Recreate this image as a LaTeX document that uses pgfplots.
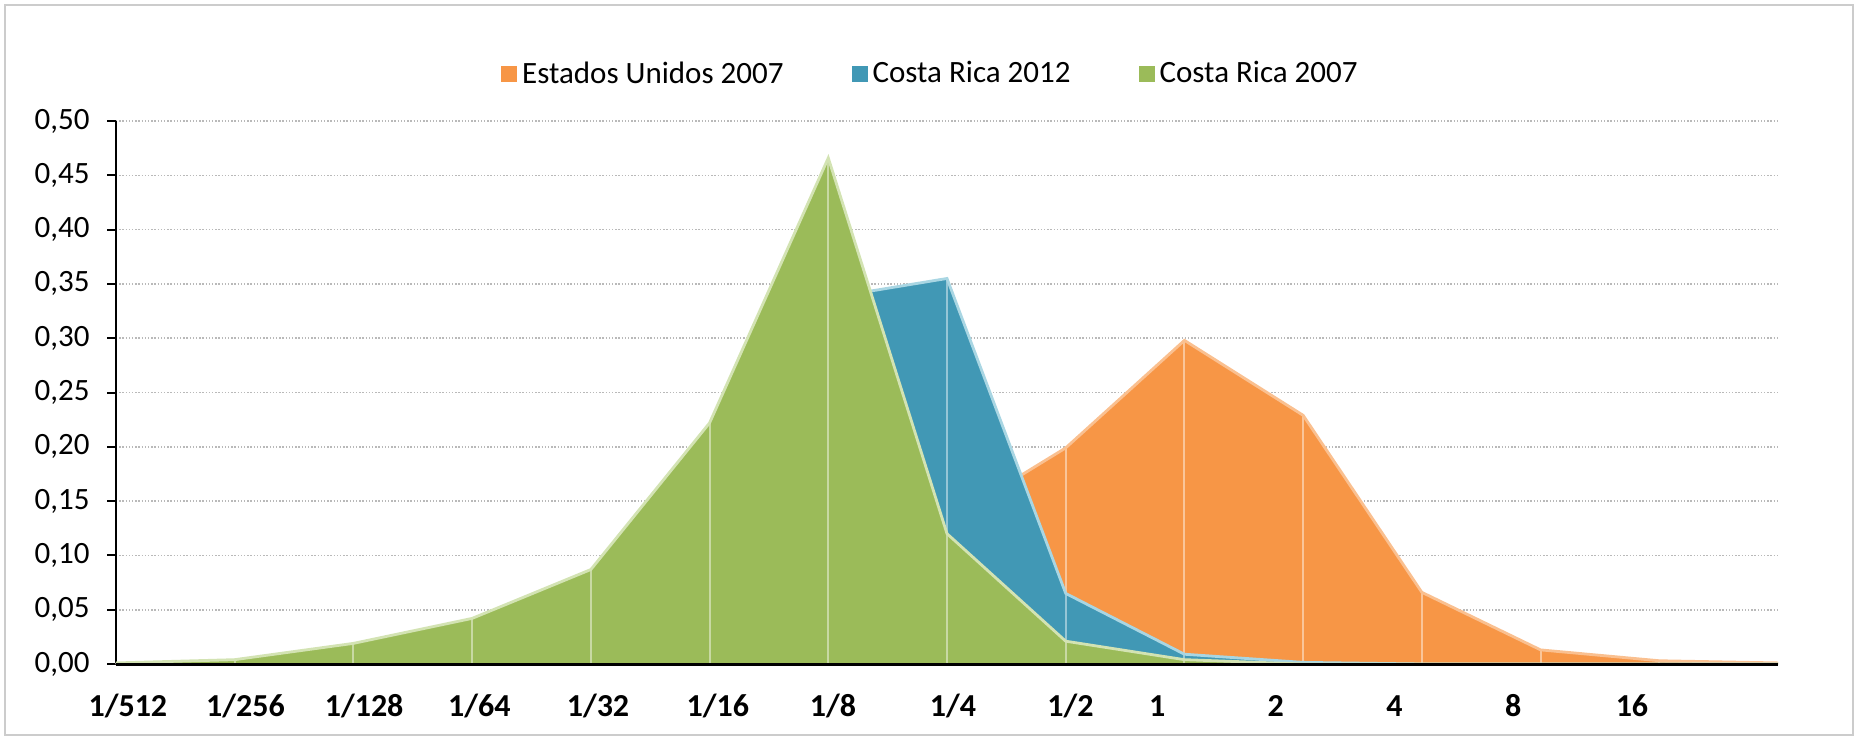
\documentclass[border=0pt]{standalone}
\usepackage{pgfplots}
\pgfplotsset{compat=1.18}
\usepackage{pgfplotstable}
\usepackage{fontspec}
\setmainfont{Carlito}
\definecolor{cor}{HTML}{F79646}
\definecolor{cbl}{HTML}{4198B5}
\definecolor{cgr}{HTML}{9BBB59}
\definecolor{corL}{HTML}{FAC090}
\definecolor{cblL}{HTML}{A9D6E3}
\definecolor{cgrL}{HTML}{D3E3B3}
\pgfplotstableread{
i g b o
0 0.001 0.000 0.000
1 0.004 0.001 0.000
2 0.019 0.004 0.000
3 0.042 0.012 0.001
4 0.087 0.035 0.003
5 0.222 0.110 0.012
6 0.466 0.337 0.045
7 0.120 0.355 0.132
8 0.021 0.065 0.199
9 0.004 0.009 0.298
10 0.000 0.0015 0.229
11 0.000 0.000 0.066
12 0.000 0.000 0.013
13 0.000 0.000 0.003
14 0.000 0.000 0.001
}\data
\begin{document}
\begin{tikzpicture}
\useasboundingbox (-58pt,-38.5pt) rectangle (871.5pt,332pt);
\draw[gray!40, line width=1.2pt] (-55.5pt,-35.5pt) rectangle (868.5pt,329.5pt);
\begin{axis}[
  at={(0pt,0pt)}, anchor=south west,
  scale only axis, width=831pt, height=271.5pt,
  xmin=0, xmax=14, ymin=0, ymax=0.5,
  axis x line*=bottom,
  x axis line style={draw=none},
  axis y line*=left,
  y axis line style={-, black, line width=1pt},
  ytick={0,0.05,...,0.5},
  ytick style={black, line width=1pt},
  xtick style={draw=none},
  tick align=outside, major tick length=4.5pt,
  xtick={0.10,1.09,2.09,3.06,4.06,5.07,6.04,7.05,8.04,8.77,9.77,10.77,11.77,12.77},
  xticklabels={1/512,1/256,1/128,1/64,1/32,1/16,1/8,1/4,1/2,1,2,4,8,16},
  xticklabel style={font=\fontsize{16}{18}\selectfont\bfseries, anchor=center, yshift=-16.5pt},
  ymajorgrids,
  grid style={gray!55, line width=0.8pt, dash pattern=on 0.7pt off 0.9pt},
  /pgf/number format/assume math mode=true,
  yticklabel={\pgfmathprintnumber[fixed, fixed zerofill, precision=2, use comma]{\tick}},
  scaled y ticks=false,
  yticklabel style={font=\fontsize{15.5}{18}\selectfont, anchor=east, inner sep=0pt, xshift=-8.5pt},
  legend style={at={(0.49,1.087)}, anchor=center, draw=none, fill=none,
    legend columns=3, font=\fontsize{15.5}{18}\selectfont,
    nodes={inner sep=1pt},
    /tikz/every odd column/.append style={column sep=1.5pt},
    /tikz/every even column/.append style={column sep=33pt}},
  legend image code/.code={\fill[#1] (0pt,-4pt) rectangle (8pt,4pt);},
  clip=false,
]
\addplot[fill=cor, draw=none] table[x=i,y=o] {\data} \closedcycle;
\addlegendentry{Estados Unidos 2007}
\addplot[ycomb, white, opacity=0.45, line width=1pt, forget plot] table[x=i,y=o] {\data};
\addplot[corL, line width=1.4pt, forget plot] table[x=i,y=o] {\data};
\addplot[fill=cbl, draw=none] table[x=i,y=b] {\data} \closedcycle;
\addlegendentry{Costa Rica 2012}
\addplot[ycomb, white, opacity=0.45, line width=1pt, forget plot] table[x=i,y=b] {\data};
\addplot[cblL, line width=1.4pt, forget plot] table[x=i,y=b] {\data};
\addplot[fill=cgr, draw=none] table[x=i,y=g] {\data} \closedcycle;
\addlegendentry{Costa Rica 2007}
\addplot[ycomb, white, opacity=0.45, line width=1pt, forget plot] table[x=i,y=g] {\data};
\addplot[cgrL, line width=1.4pt, forget plot] table[x=i,y=g] {\data};
\draw[black, line width=1.5pt] (rel axis cs:0,0) -- (rel axis cs:1,0);
\end{axis}
\end{tikzpicture}
\end{document}
